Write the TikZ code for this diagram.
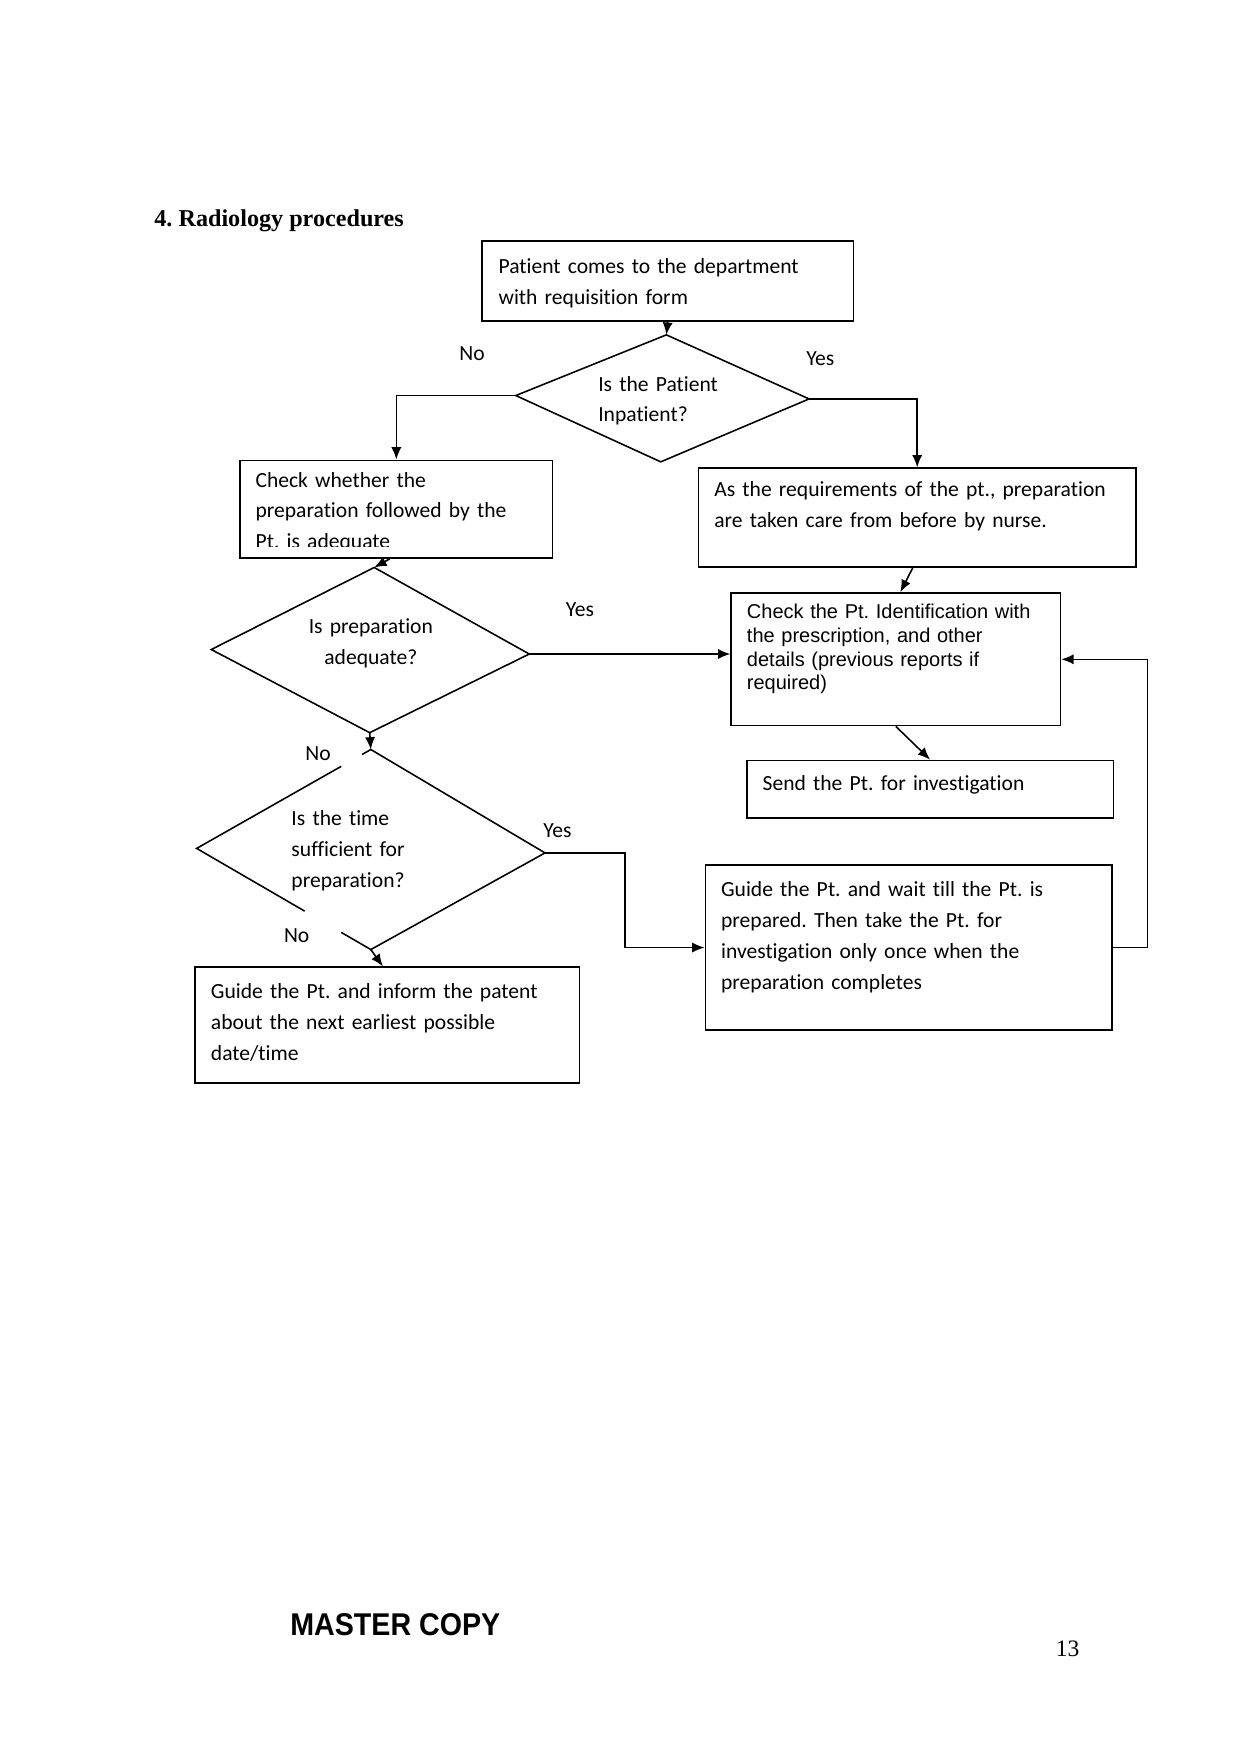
\documentclass[tikz,border=0pt]{standalone}
\usepackage{fontspec}
\setmainfont{Carlito}[Ligatures=NoCommon]
\newfontfamily\arialf{Liberation Sans}
\newfontfamily\timesf{Liberation Serif}
\usetikzlibrary{arrows.meta,calc}
\frenchspacing
\begin{document}
\begin{tikzpicture}[x=0.5pt,y=-0.5pt,
  cal/.style={font=\frenchspacing\fontsize{9.6}{13.75}\selectfont},
  box/.style={draw, line width=0.7pt, anchor=north west, inner xsep=7pt, inner ysep=0pt, align=left, cal},
  ln/.style={line width=0.7pt},
  arr/.style={line width=0.7pt, -{Latex[length=5.5pt,width=4.5pt]}},
  lbl/.style={cal, inner sep=0pt, anchor=base},
  dtext/.style={cal, inner sep=0pt, text width=100pt}]
\useasboundingbox (0,0) rectangle (1108,1568);

% title
\node[anchor=base west, inner sep=0pt, font=\timesf\bfseries\fontsize{10.75}{13}\selectfont] (title) at (137,202) {4. Radiology procedures};

% boxes
\node[box, text width=150.5pt, inner xsep=7.5pt, text height=14.5pt, text depth=21pt] (start) at (428,214)
  {\mbox{Patient comes to the department}\\\mbox{with requisition form}};

\node[box, text width=125pt, text height=12pt, text depth=31.5pt] (chk) at (213,409) {};
\begin{scope}
  \clip (chk.north west) rectangle ($(chk.south east)+(0,-11)$);
  \node[anchor=north west, inner xsep=7pt, inner ysep=0pt, text width=125pt, text height=12pt, align=left, cal] (chktext) at (chk.north west)
    {\mbox{Check whether the}\\\mbox{preparation followed by the}\\\mbox{Pt. is adequate}};
\end{scope}

\node[box, text width=180.5pt, text height=12.5pt, text depth=31.5pt] (req) at (621,416)
  {\mbox{As the requirements of the pt., preparation}\\\mbox{are taken care from before by nurse.}};

\node[box, text width=132.5pt, text height=11.5pt, text depth=47.5pt, font=\arialf\frenchspacing\fontsize{8.9}{10.5}\selectfont] (chkid) at (650,527)
  {\mbox{Check the Pt. Identification with}\\\mbox{the prescription, and other}\\\mbox{details (previous reports if}\\\mbox{required)}};

\node[box, text width=149pt, text height=13.5pt, text depth=12pt] (send) at (664,676)
  {\mbox{Send the Pt. for investigation}};

\node[box, text width=167pt, text height=14pt, text depth=59.5pt] (wait) at (627,769)
  {\mbox{Guide the Pt. and wait till the Pt. is}\\\mbox{prepared. Then take the Pt. for}\\\mbox{investigation only once when the}\\\mbox{preparation completes}};

\node[box, text width=157pt, text height=14pt, text depth=37.5pt] (inform) at (173,860)
  {\mbox{Guide the Pt. and inform the patent}\\\mbox{about the next earliest possible}\\\mbox{date/time}};

% diamonds
\coordinate (d1t) at (593,298);
\coordinate (d1l) at (459,352);
\coordinate (d1r) at (720,355);
\coordinate (d1b) at (588,411);
\draw[ln] (d1t) -- (d1r) -- (d1b) -- (d1l) -- cycle;
\node[dtext, anchor=base west, align=left] (d1txt) at (532,348) {Is the Patient\\Inpatient?};

\coordinate (d2t) at (333,505);
\coordinate (d2l) at (188,578);
\coordinate (d2r) at (471,582);
\coordinate (d2b) at (329,652);
\draw[ln] (d2t) -- (d2r) -- (d2b) -- (d2l) -- cycle;
\node[dtext, anchor=base, align=center] (d2txt) at (330,564) {Is preparation\\adequate?};

\coordinate (d3t) at (330,667);
\coordinate (d3l) at (175,755);
\coordinate (d3r) at (485,759);
\coordinate (d3b) at (330,845);
\draw[ln] ($(d3t)!0.05!(d3l)$) -- (d3t) -- (d3r) -- (d3b) -- ($(d3b)!0.17!(d3l)$);
\draw[ln] ($(d3t)!0.17!(d3l)$) -- (d3l) -- ($(d3l)!0.62!(d3b)$);
\node[dtext, anchor=base west, align=left] (d3txt) at (259,735) {Is the time\\sufficient for\\preparation?};

% labels
\node[lbl] (no1) at (420,321) {No};
\node[lbl] (yes1) at (730,325) {Yes};
\node[lbl] (yes2) at (516,549) {Yes};
\node[lbl] (no2) at (283,677) {No};
\node[lbl] (yes3) at (496,745) {Yes};
\node[lbl] (no3) at (264,839) {No};

% helper coordinates
\coordinate (j1) at (556,800);
\coordinate (fb) at (1021,700);

% connectors
\draw[arr] (start.south) -- (d1t);
\draw[arr] (d1l) -| (chk.north);
\draw[arr] (d1r) -| (req.north);
\draw[arr] ([xshift=-3pt]chk.south) -- (d2t);
\draw[arr] (d2r) -- (d2r -| chkid.west);
\draw[arr] ([xshift=-2pt]req.south) -- ([xshift=2pt]chkid.north);
\draw[arr] (chkid.south) -- (send.north);
\draw[arr] (d2b) -- (d3t);
\draw[arr] (d3b) -- ([xshift=-2pt]inform.north);
\draw[arr] (d3r) -- (d3r -| j1) |- (wait.west);
\draw[arr] (wait.east) -| (fb) |- (chkid.east);

% footer
\node[anchor=base west, inner sep=0pt, font=\arialf\bfseries\fontsize{14}{16}\selectfont] (master) at (258,1455) {\scalebox{0.91}[1]{MASTER COPY}};
\node[anchor=base, inner sep=0pt, font=\timesf\fontsize{10.5}{12}\selectfont] (pageno) at (950,1474) {13};
\end{tikzpicture}
\end{document}
